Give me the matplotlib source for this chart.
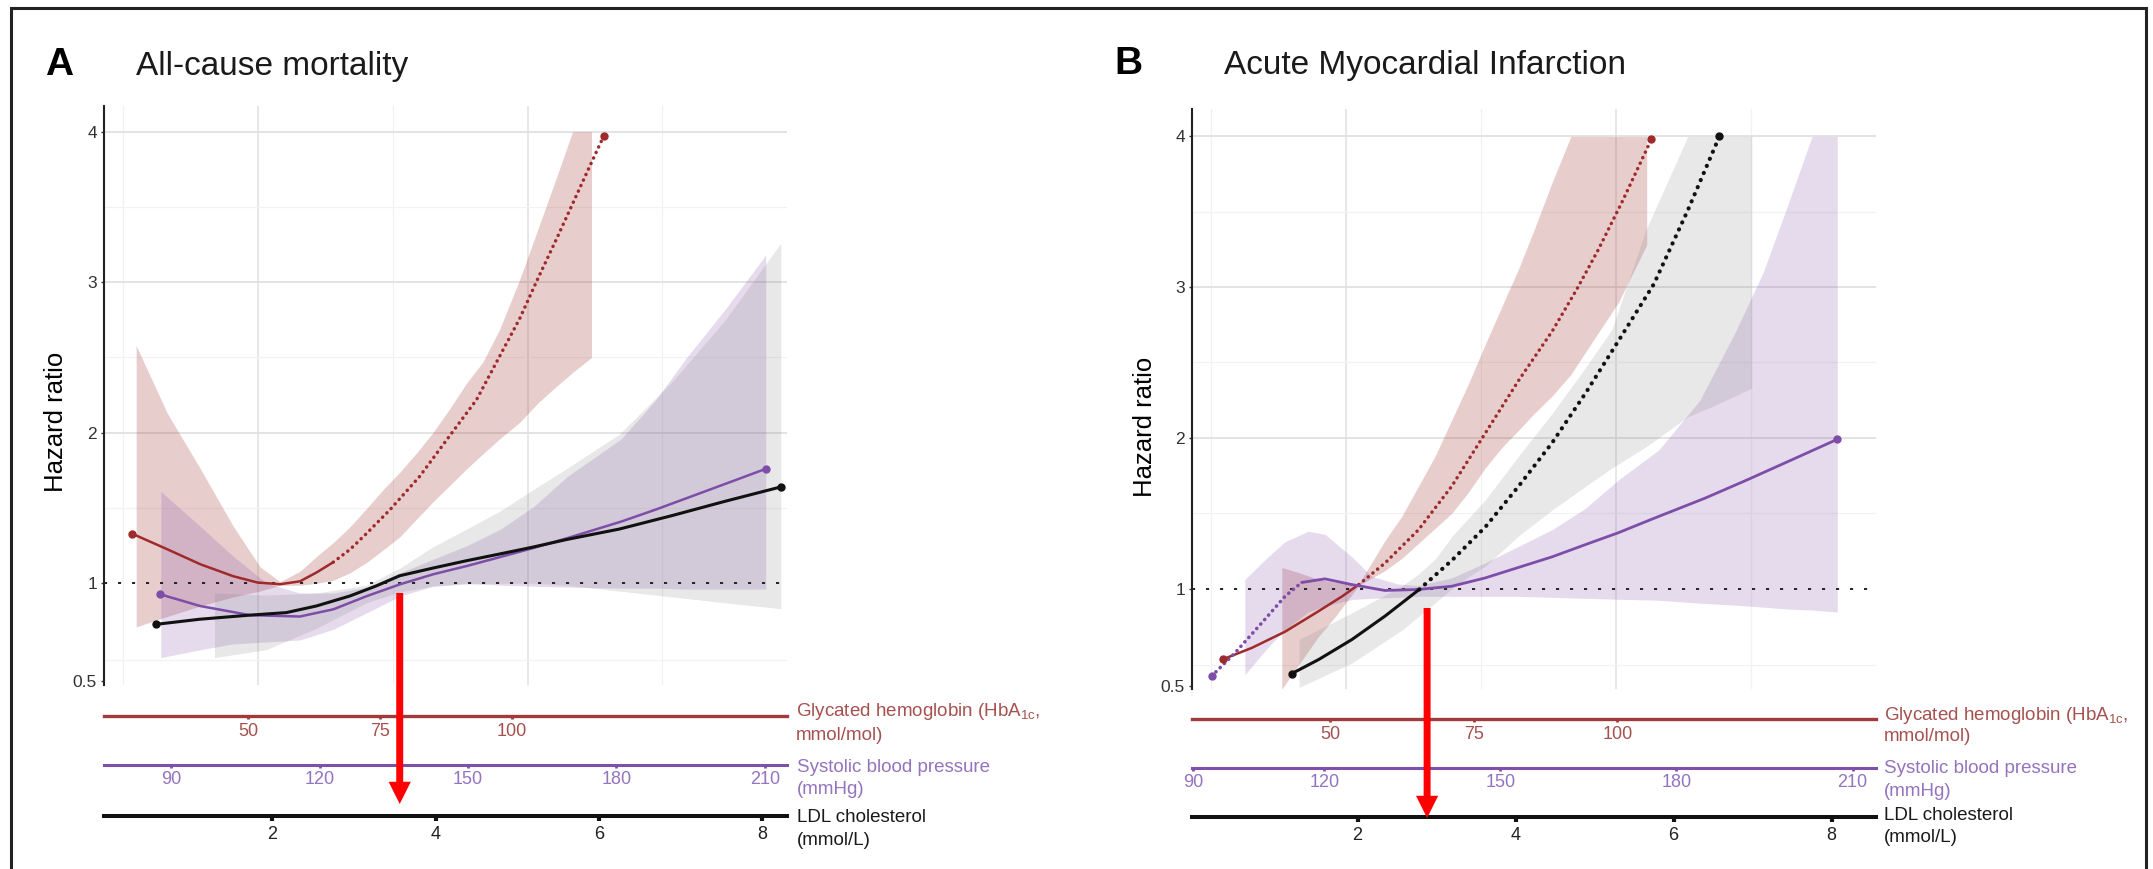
import numpy as np
import matplotlib
matplotlib.use('Agg')
import matplotlib.pyplot as plt
from matplotlib import transforms

# ---- panel A: all-cause mortality (HbA1c mmol/mol, SBP mmHg, LDL mmol/L vs hazard ratio)
a_hba_x = [27.9, 34.6, 40.9, 47.1, 51.7, 56.0, 59.8, 63.0, 66.1, 69.3, 72.4, 76.9, 82.5,
           88.2, 93.3, 97.7, 101.5, 105.0, 108.5, 111.5, 114.5, 117.4]
a_hba_hr = [1.33, 1.226, 1.126, 1.047, 1.005, 0.995, 1.013, 1.073, 1.14, 1.225, 1.33, 1.49, 1.71,
            1.98, 2.22, 2.51, 2.76, 3.03, 3.29, 3.52, 3.75, 3.97]
a_hba_band_x = [28.7, 34.6, 40.9, 47.1, 52.2, 56.0, 59.8, 63.0, 66.1, 69.3, 72.5, 75.5, 78.8,
                82.0, 85.0, 88.2, 91.4, 94.5, 97.7, 101.5, 105.0, 108.5, 111.5, 115.1]
a_hba_lo = [0.777, 0.83, 0.884, 0.93, 0.96, 0.99, 0.99, 1.0, 1.02, 1.07, 1.14, 1.22, 1.31,
            1.43, 1.54, 1.65, 1.76, 1.86, 1.96, 2.07, 2.2, 2.31, 2.4, 2.5]
a_hba_hi = [2.58, 2.13, 1.76, 1.38, 1.11, 1.01, 1.08, 1.18, 1.27, 1.376, 1.5, 1.62, 1.74,
            1.87, 2.0, 2.16, 2.33, 2.47, 2.69, 3.02, 3.36, 3.7, 4.0, 4.0]

a_sbp_x = [87.7, 95.8, 105.9, 116.0, 122.8, 129.6, 136.3, 143.0, 149.8, 156.6, 163.3, 170.1,
           181.0, 188.0, 195.0, 202.0, 210.2]
a_sbp_hr = [0.944, 0.884, 0.837, 0.83, 0.867, 0.935, 0.995, 1.06, 1.115, 1.175, 1.235, 1.30,
            1.41, 1.49, 1.575, 1.66, 1.76]
a_sbp_band_x = [87.9, 95.8, 102.5, 109.3, 116.0, 122.8, 129.6, 136.3, 143.0, 149.8, 156.6,
                163.3, 170.1, 181.0, 188.0, 194.2, 202.0, 210.2]
a_sbp_lo = [0.62, 0.66, 0.69, 0.70, 0.71, 0.765, 0.85, 0.935, 0.985, 1.0, 0.99, 0.985, 0.98,
            0.975, 0.975, 0.97, 0.97, 0.97]
a_sbp_hi = [1.61, 1.38, 1.18, 1.0, 0.95, 0.95, 0.98, 1.07, 1.16, 1.25, 1.36, 1.51, 1.71,
            1.96, 2.22, 2.5, 2.82, 3.18]

a_ldl_x = [0.573, 1.106, 1.72, 2.17, 2.54, 2.95, 3.27, 3.56, 3.96, 4.38, 4.79, 5.19, 5.6,
           6.25, 6.9, 7.55, 8.23]
a_ldl_hr = [0.79, 0.816, 0.837, 0.85, 0.884, 0.935, 0.986, 1.05, 1.10, 1.15, 1.195, 1.24, 1.29,
            1.36, 1.45, 1.545, 1.64]
a_ldl_band_x = [1.29, 1.92, 2.54, 3.15, 3.56, 3.96, 4.38, 4.79, 5.19, 5.6, 6.25, 6.9, 7.55, 8.23]
a_ldl_lo = [0.62, 0.66, 0.77, 0.90, 0.955, 0.985, 0.995, 1.0, 1.0, 0.99, 0.96, 0.93, 0.90, 0.87]
a_ldl_hi = [0.95, 0.94, 0.95, 0.99, 1.10, 1.24, 1.36, 1.48, 1.62, 1.76, 1.99, 2.34, 2.75, 3.26]

# ---- panel B: acute myocardial infarction
b_hba_x = [31.3, 36.4, 42.2, 48.0, 52.1, 55.0, 59.6, 65.4, 71.2, 77.0, 82.8, 88.7, 93.0,
           96.7, 101.0, 105.9]
b_hba_hr = [0.638, 0.697, 0.78, 0.884, 0.96, 1.026, 1.17, 1.39, 1.68, 2.03, 2.38, 2.71, 2.99,
            3.25, 3.58, 3.98]
b_hba_band_x = [41.6, 45.0, 48.0, 51.0, 55.0, 59.6, 62.5, 65.4, 68.3, 71.2, 74.1, 77.0, 80.0,
                82.8, 85.5, 88.7, 91.9, 95.0, 100.2, 105.1]
b_hba_lo = [0.485, 0.63, 0.755, 0.86, 1.02, 1.12, 1.2, 1.30, 1.40, 1.50, 1.64, 1.80, 1.94,
            2.05, 2.16, 2.28, 2.42, 2.6, 2.9, 3.28]
b_hba_hi = [1.14, 1.10, 1.06, 1.04, 1.03, 1.32, 1.48, 1.68, 1.88, 2.12, 2.36, 2.62, 2.88,
            3.12, 3.38, 3.7, 4.0, 4.0, 4.0, 4.0]

b_sbp_x = [94.2, 99.5, 105.7, 111.0, 114.8, 120.1, 124.7, 130.3, 136.0, 141.7, 147.4, 153.1,
           158.8, 164.4, 170.1, 175.8, 184.9, 192.0, 200.0, 207.4]
b_sbp_hr = [0.553, 0.67, 0.825, 0.96, 1.04, 1.064, 1.026, 0.99, 0.995, 1.015, 1.07, 1.14,
            1.21, 1.29, 1.37, 1.46, 1.60, 1.72, 1.86, 1.99]
b_sbp_band_x = [101.8, 107.1, 111.0, 116.3, 120.1, 124.7, 128.1, 132.6, 136.0, 141.7, 147.4,
                153.1, 158.8, 164.4, 170.1, 177.0, 184.0, 190.0, 194.8, 199.0, 203.1, 207.4]
b_sbp_lo = [0.56, 0.70, 0.79, 0.88, 0.91, 0.944, 0.95, 0.955, 0.96, 0.96, 0.96, 0.96, 0.955,
            0.95, 0.945, 0.94, 0.925, 0.915, 0.905, 0.895, 0.89, 0.88]
b_sbp_hi = [1.06, 1.21, 1.31, 1.38, 1.36, 1.21, 1.08, 1.03, 1.02, 1.07, 1.17, 1.28, 1.39,
            1.53, 1.72, 1.92, 2.25, 2.7, 3.1, 3.55, 4.0, 4.0]

b_ldl_x = [1.165, 1.51, 1.93, 2.35, 2.78, 3.2, 3.62, 4.04, 4.46, 4.89, 5.31, 5.75, 6.18, 6.58]
b_ldl_hr = [0.565, 0.638, 0.74, 0.86, 0.995, 1.19, 1.41, 1.68, 1.965, 2.30, 2.65, 3.02, 3.51, 4.0]
b_ldl_band_x = [1.26, 1.93, 2.57, 2.78, 2.99, 3.2, 3.41, 3.62, 4.04, 4.46, 4.89, 5.22, 5.65,
                6.18, 6.5, 6.99]
b_ldl_lo = [0.495, 0.62, 0.79, 0.86, 0.93, 1.0, 1.08, 1.15, 1.35, 1.52, 1.68, 1.80, 1.94,
            2.14, 2.21, 2.33]
b_ldl_hi = [0.74, 0.876, 1.02, 1.10, 1.2, 1.35, 1.47, 1.59, 1.88, 2.16, 2.47, 2.72, 3.38,
            4.0, 4.0, 4.0]

hr_ticks = [0.5, 1, 2, 3, 4]
hr_labels = ['0.5', '1', '2', '3', '4']
hba_ticks = [50, 75, 100]
sbp_ticks = [90, 120, 150, 180, 210]
ldl_ticks = [2, 4, 6, 8]
a_arrow_ldl = 3.56   # where the red arrow drops onto the LDL axis
b_arrow_ldl = 2.88

RED, RED_TXT = '#9E2A2B', '#A5514F'
PUR, PUR_TXT = '#7E4DA8', '#9473BF'
BLK = '#111111'

plt.rcParams['font.family'] = ['Liberation Sans', 'DejaVu Sans']
plt.rcParams['mathtext.fontset'] = 'custom'
plt.rcParams['mathtext.rm'] = 'Liberation Sans'

W, H = 2153, 869
fig = plt.figure(figsize=(W / 100, H / 100), dpi=100)


def fx(x):
    return x / W


def fy(y):
    return 1 - y / H


def piecewise(k, c):
    # linear above k, stretched (c>1) or squeezed (c<1) below it
    def fwd(v):
        v = np.asarray(v, dtype=float)
        return np.where(v >= k, v, k - (k - v) * c)

    def inv(t):
        t = np.asarray(t, dtype=float)
        return np.where(t >= k, t, k - (k - t) / c)
    return fwd, inv


def main_axes(l, t, r, b, ylim):
    ax = fig.add_axes([fx(l), fy(b), (r - l) / W, (b - t) / H])
    ax.set_yscale('function', functions=piecewise(1.0, 1.3))
    ax.set_ylim(*ylim)
    ax.set_xlim(0.43, 2.962)
    for v in (1, 2):
        ax.axvline(v, color='#E3E3E3', lw=1.2, zorder=0)
    for v in (0.5, 1.5, 2.5):
        ax.axvline(v, color='#F1F1F1', lw=0.9, zorder=0)
    for v in (2, 3, 4):
        ax.axhline(v, color='#E1E1E1', lw=1.3, zorder=0)
    for v in (0.61, 1.5, 2.5, 3.5):
        ax.axhline(v, color='#F2F2F2', lw=0.9, zorder=0)
    ax.axhline(1, color='#222222', lw=1.4, ls=(0, (1.6, 5.6)), zorder=2)
    ax.set_yticks(hr_ticks, hr_labels)
    ax.set_xticks([])
    for s in ('top', 'right', 'bottom'):
        ax.spines[s].set_visible(False)
    ax.spines['left'].set_linewidth(1.5)
    ax.spines['left'].set_color('#222222')
    ax.tick_params(axis='y', length=2.5, width=1, pad=2.5, labelsize=12.5, colors='#333333')
    return ax


def strip(l, r, y, xlim, ticks, color, tcolor, lw, tlen, tw, pad, scale=None):
    s = fig.add_axes([fx(l), fy(y), (r - l) / W, 8 / H])
    if scale is not None:
        s.set_xscale('function', functions=scale)
    s.set_xlim(*xlim)
    s.set_xticks(ticks, [str(t) for t in ticks])
    s.set_yticks([])
    s.patch.set_visible(False)
    for k in ('top', 'left', 'right'):
        s.spines[k].set_visible(False)
    s.spines['bottom'].set_color(color)
    s.spines['bottom'].set_linewidth(lw)
    s.tick_params(axis='x', color=color, labelcolor=tcolor, length=tlen, width=tw,
                  pad=pad, labelsize=13)
    return s


def curve(ax, s, x, hr, bx, lo, hi, color, band, alpha, lw, cut=np.inf, dotted_first=False,
          dot_lw=2.0, dot_gap=2.6, z=3):
    tr = transforms.blended_transform_factory(s.transData, ax.transData)
    ax.fill_between(bx, lo, hi, color=band, alpha=alpha, lw=0, transform=tr, zorder=1)
    x = np.asarray(x)
    hr = np.asarray(hr)
    solid = x >= cut if dotted_first else x <= cut
    dots = ~solid | (x == cut)
    ax.plot(x[solid], hr[solid], color=color, lw=lw, transform=tr, zorder=z,
            solid_capstyle='round', solid_joinstyle='round')
    if dots.sum() > 1:
        ax.plot(x[dots], hr[dots], color=color, lw=dot_lw, ls=(0, (0.05, dot_gap)),
                dash_capstyle='round', transform=tr, zorder=z)
    ax.plot([x[0], x[-1]], [hr[0], hr[-1]], 'o', ms=5, color=color, transform=tr, zorder=z + 0.5)


def strip_label(x, y1, y2, line1, line2, color):
    fig.text(fx(x), fy(y1), line1, color=color, fontsize=13.5, va='baseline')
    fig.text(fx(x), fy(y2), line2, color=color, fontsize=13.5, va='baseline')


def arrow(s, x, top, tip):
    s.annotate('', xy=(x, H - tip), xycoords=('data', 'figure pixels'),
               xytext=(x, H - top), textcoords=('data', 'figure pixels'),
               arrowprops=dict(arrowstyle='simple,head_length=16,head_width=16,tail_width=5',
                               fc='#FF0000', ec='none', shrinkA=0, shrinkB=0, mutation_scale=1),
               annotation_clip=False)


# ---------------- panel A ----------------
axA = main_axes(104, 106, 787, 685, (0.48, 4.171))
sA_h = strip(104, 787, 716, (22.6, 152.2), hba_ticks, '#A13A3A', RED_TXT, 2.4, 2.2, 2, 2.5)
sA_s = strip(104, 787, 765.3, (76.4, 214.5), sbp_ticks, '#7F50A9', PUR_TXT, 2.2, 2.2, 2, 2.0)
sA_l = strip(104, 787, 816, (-0.064, 8.306), ldl_ticks, BLK, '#222222', 2.9, 3.4, 3, 3.5)
curve(axA, sA_h, a_hba_x, a_hba_hr, a_hba_band_x, a_hba_lo, a_hba_hi, RED, RED, 0.23, 1.8,
      cut=66.1, dot_lw=2.5, dot_gap=1.7, z=3)
curve(axA, sA_s, a_sbp_x, a_sbp_hr, a_sbp_band_x, a_sbp_lo, a_sbp_hi, PUR, PUR, 0.2, 1.8, z=3.1)
curve(axA, sA_l, a_ldl_x, a_ldl_hr, a_ldl_band_x, a_ldl_lo, a_ldl_hi, BLK, '#808080', 0.18, 2.2,
      z=3.2)
arrow(sA_l, a_arrow_ldl, 593, 804)

fig.text(fx(45), fy(75), 'A', fontsize=28, fontweight='bold', va='baseline')
fig.text(fx(136), fy(75), 'All-cause mortality', fontsize=24, va='baseline', color='#1a1a1a')
fig.text(fx(56), fy(421.7), 'Hazard ratio', fontsize=18.5, rotation=90, ha='center', va='center')
strip_label(796, 716.5, 739.5, r'Glycated hemoglobin (HbA$_{\mathrm{1c}}$,', 'mmol/mol)', RED_TXT)
strip_label(797, 772, 794.5, 'Systolic blood pressure', '(mmHg)', PUR_TXT)
strip_label(797, 822, 845, 'LDL cholesterol', '(mmol/L)', '#1a1a1a')

# ---------------- panel B ----------------
axB = main_axes(1192, 109.3, 1876, 689, (0.487, 4.18))
sB_h = strip(1192, 1876, 719.3, (25.98, 145.0), hba_ticks, '#A13A3A', RED_TXT, 2.4, 2.2, 2, 2.5)
sB_s = strip(1192, 1876, 767.7, (89.7, 214.0), sbp_ticks, '#7F50A9', PUR_TXT, 2.2, 2.2, 2, 2.0,
             scale=piecewise(120, 0.744))
sB_l = strip(1192, 1876, 817.3, (-0.096, 8.562), ldl_ticks, BLK, '#222222', 2.9, 3.4, 3, 3.5)
curve(axB, sB_h, b_hba_x, b_hba_hr, b_hba_band_x, b_hba_lo, b_hba_hi, RED, RED, 0.23, 1.8,
      cut=55.0, dot_lw=2.5, dot_gap=1.7, z=3)
curve(axB, sB_s, b_sbp_x, b_sbp_hr, b_sbp_band_x, b_sbp_lo, b_sbp_hi, PUR, PUR, 0.2, 2.0,
      cut=114.8, dotted_first=True, dot_lw=2.6, dot_gap=1.6, z=3.1)
curve(axB, sB_l, b_ldl_x, b_ldl_hr, b_ldl_band_x, b_ldl_lo, b_ldl_hi, BLK, '#808080', 0.18, 2.2,
      cut=2.78, dot_lw=3.0, dot_gap=1.8, z=3.2)
arrow(sB_l, b_arrow_ldl, 608, 818)

fig.text(fx(1114), fy(74), 'B', fontsize=28, fontweight='bold', va='baseline')
fig.text(fx(1224), fy(74), 'Acute Myocardial Infarction', fontsize=24, va='baseline',
         color='#1a1a1a')
fig.text(fx(1145.5), fy(427), 'Hazard ratio', fontsize=18.5, rotation=90, ha='center', va='center')
strip_label(1884, 719.5, 741, r'Glycated hemoglobin (HbA$_{\mathrm{1c}}$,', 'mmol/mol)', RED_TXT)
strip_label(1884, 773, 795.5, 'Systolic blood pressure', '(mmHg)', PUR_TXT)
strip_label(1884, 819.5, 841.5, 'LDL cholesterol', '(mmol/L)', '#1a1a1a')

# outer frame (open at the bottom, as in the source figure)
fig.add_artist(plt.Rectangle((fx(11), -0.05), fx(2146) - fx(11), fy(8) + 0.05,
                             transform=fig.transFigure, fill=False, ec='#222222', lw=2.2))

fig.savefig('out.png', dpi=100)
